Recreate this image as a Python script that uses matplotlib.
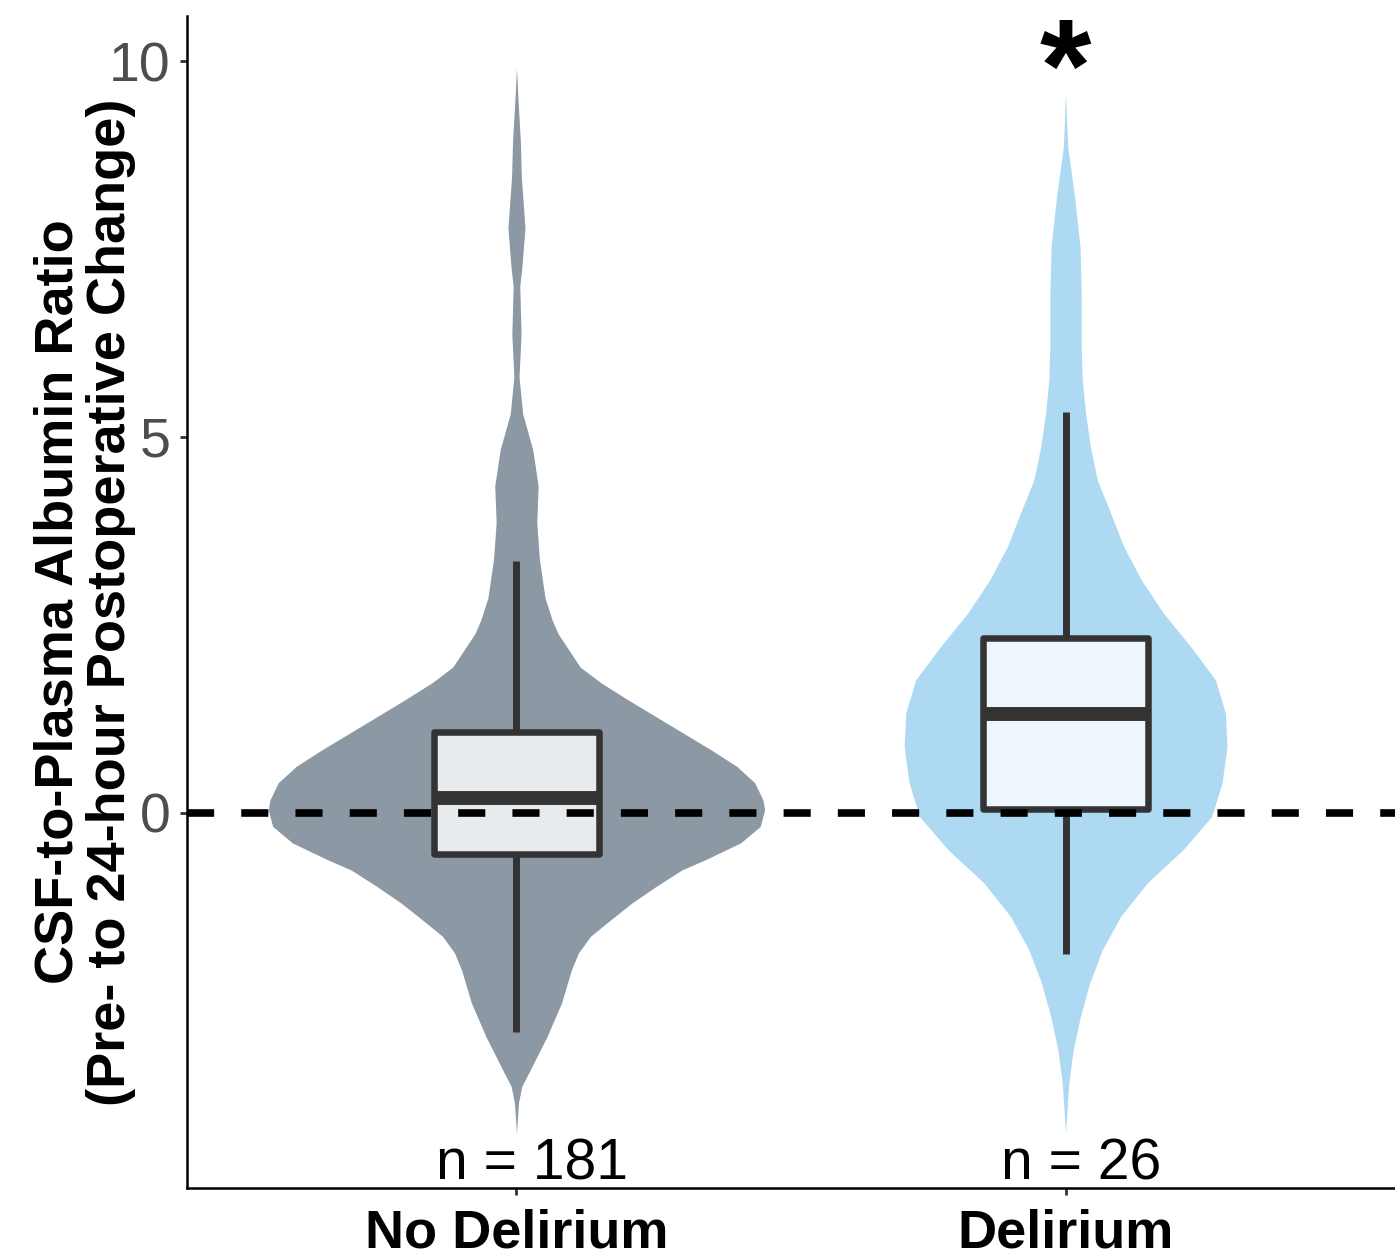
import matplotlib
matplotlib.use("Agg")
import matplotlib.pyplot as plt
from matplotlib import font_manager
from matplotlib.patches import Rectangle
import numpy as np

# ---------------- data ----------------
categories = ["No Delirium", "Delirium"]
n_labels = ["n = 181", "n = 26"]

# violin outlines: y value and half-width (x data units)
nodel_y = [9.90, 9.42, 8.94, 8.46, 7.78, 7.25, 7.01, 6.37, 5.80, 5.31, 4.83, 4.35,
           3.86, 3.38, 2.86, 2.57, 2.39, 1.94, 1.73, 1.50, 1.28, 1.06, 0.84, 0.62,
           0.40, 0.17, 0.04, -0.18, -0.40, -0.62, -0.76, -0.98, -1.20, -1.42, -1.64,
           -1.86, -2.09, -2.53, -2.97, -3.42, -3.64, -3.86, -4.26]
nodel_hw = [0.0, 0.0033, 0.0071, 0.0089, 0.0155, 0.0098, 0.0060, 0.0084, 0.0047, 0.0113, 0.0297, 0.0395,
            0.0370, 0.0417, 0.052, 0.0648, 0.0752, 0.116, 0.154, 0.204, 0.254, 0.304, 0.354, 0.401,
            0.434, 0.449, 0.452, 0.444, 0.408, 0.345, 0.301, 0.254, 0.210, 0.172, 0.135,
            0.113, 0.100, 0.082, 0.056, 0.025, 0.0095, 0.0036, 0.0]

del_y = [9.57, 8.86, 8.20, 7.53, 6.87, 6.20, 5.76, 5.32, 4.87, 4.43, 3.99, 3.54, 3.10,
         2.66, 2.21, 1.77, 1.33, 0.88, 0.40, -0.05, -0.49, -0.93, -1.38, -1.82, -2.26,
         -2.71, -3.15, -3.59, -4.26]
del_hw = [0.0, 0.0040, 0.0164, 0.0264, 0.0286, 0.0286, 0.0304, 0.0364, 0.0452, 0.0577, 0.082, 0.106, 0.138,
          0.178, 0.228, 0.273, 0.291, 0.294, 0.285, 0.266, 0.214, 0.149, 0.100, 0.067, 0.044,
          0.027, 0.014, 0.006, 0.0]

# box stats: whisker_lo, q1, median, q3, whisker_hi
nodel_box = [-2.92, -0.55, 0.20, 1.08, 3.35]
del_box = [-1.88, 0.045, 1.31, 2.32, 5.33]

y_ticks = [0, 5, 10]
y_label = "CSF-to-Plasma Albumin Ratio\n(Pre- to 24-hour Postoperative Change)"
signif = "*"

violin_colors = ["#8C98A4", "#AED9F3"]
box_fills = ["#E7EBEE", "#EEF6FD"]
dark = "#333333"

# ---------------- fonts ----------------
def has_font(name):
    try:
        font_manager.findfont(font_manager.FontProperties(family=name),
                              fallback_to_default=False)
        return True
    except Exception:
        return False

narrow = has_font("Liberation Sans Narrow")
base = "Liberation Sans"
title_family = "Liberation Sans Narrow" if narrow else base
title_size = 47 if narrow else 39

# ---------------- figure ----------------
fig = plt.figure(figsize=(13.95, 12.6), dpi=100)
ax = fig.add_axes([187 / 1395, (1260 - 1188) / 1260, 1 - 187 / 1395, (1188 - 16) / 1260])

positions = [1, 2]
profiles = [(nodel_y, nodel_hw), (del_y, del_hw)]
boxes = [nodel_box, del_box]
box_w = 0.30

for pos, (yy, hw), col in zip(positions, profiles, violin_colors):
    yy = np.asarray(yy)
    hw = np.asarray(hw)
    ax.fill_betweenx(yy, pos - hw, pos + hw, color=col, linewidth=0, zorder=1)

for pos, b, fc in zip(positions, boxes, box_fills):
    wlo, q1, med, q3, whi = b
    ax.plot([pos, pos], [whi, q3], color=dark, lw=5.0, solid_capstyle="butt", zorder=2)
    ax.plot([pos, pos], [q1, wlo], color=dark, lw=5.0, solid_capstyle="butt", zorder=2)
    ax.add_patch(Rectangle((pos - box_w / 2, q1), box_w, q3 - q1, facecolor=fc,
                           edgecolor=dark, lw=4.7, joinstyle="round", zorder=3))
    ax.plot([pos - box_w / 2, pos + box_w / 2], [med, med], color=dark, lw=10,
            solid_capstyle="butt", zorder=4)

ax.axhline(0, color="black", lw=5.5, dashes=(3.55, 3.55), zorder=5)

for pos, lab in zip(positions, n_labels):
    ax.text(pos + 0.028, -4.88, lab, ha="center", va="baseline", fontsize=41,
            family=base, color="black", zorder=6)

ax.text(2, 9.34, signif, ha="center", va="baseline", fontsize=95,
        family=base, fontweight="bold", color="black")

ax.set_xlim(0.4, 2.6)
ax.set_ylim(-4.99, 10.6)
ax.set_xticks(positions)
ax.set_xticklabels(categories, family=title_family, fontweight="bold",
                   fontsize=title_size, color="black")
ax.set_yticks(y_ticks)
ax.set_yticklabels([str(t) for t in y_ticks], family=base, fontsize=40, color="#4D4D4D")
ax.tick_params(axis="both", length=5, width=2, color=dark)
ax.tick_params(axis="y", pad=7)
ax.tick_params(axis="x", pad=10)

for s in ["top", "right"]:
    ax.spines[s].set_visible(False)
for s in ["left", "bottom"]:
    ax.spines[s].set_linewidth(1.8)
    ax.spines[s].set_color("black")

ax.set_ylabel(y_label, family=title_family, fontweight="bold", fontsize=title_size,
              linespacing=1.08)
ax.yaxis.set_label_coords(-0.042, 0.5)

fig.savefig("out.png", dpi=100)
